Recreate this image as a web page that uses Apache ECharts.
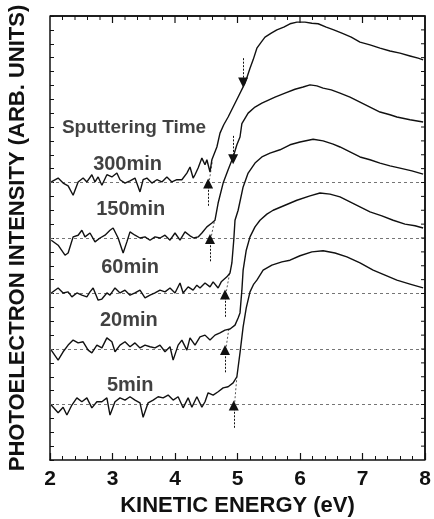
<!DOCTYPE html>
<html>
<head>
<meta charset="utf-8">
<script src="https://cdn.jsdelivr.net/npm/echarts@6/dist/echarts.min.js"></script>
<style>
  html, body { margin: 0; padding: 0; background: #fff; }
  #chart { width: 434px; height: 519px; }
</style>
</head>
<body>
<div id="chart"></div>
<script>
// Photoelectron yield spectra, offset vertically by sputtering time.
const sampleNames = ['300min', '150min', '60min', '20min', '5min'];
const baselineLevels = [5, 4, 3, 2, 1];
const xTicks = [2, 3, 4, 5, 6, 7, 8];

const spectrum300 = [
  [2.02,5.01],[2.13,5.08],[2.21,4.99],[2.29,4.94],[2.37,4.77],[2.45,5.01],[2.53,5.08],[2.59,5.01],
  [2.67,5.14],[2.72,5.01],[2.77,5.10],[2.83,4.95],[2.91,5.14],[2.99,5.10],[3.07,5.17],[3.12,5.05],
  [3.20,4.99],[3.28,5.03],[3.36,5.08],[3.44,4.83],[3.49,5.05],[3.55,5.08],[3.63,4.99],[3.71,5.05],
  [3.79,5.01],[3.87,5.10],[3.95,5.01],[4.03,5.05],[4.11,5.05],[4.19,5.17],[4.24,5.28],[4.29,5.08],
  [4.32,5.14],[4.37,5.26],[4.43,5.44],[4.48,5.32],[4.51,5.41],[4.56,5.19],[4.59,5.41],[4.67,5.64],
  [4.72,5.89],[4.78,6.04],[4.85,6.18],[4.93,6.36],[5.01,6.54],[5.12,6.79],[5.20,7.06],[5.25,7.21],
  [5.31,7.42],[5.38,7.53],[5.44,7.62],[5.54,7.69],[5.63,7.75],[5.74,7.80],[5.84,7.86],[5.95,7.89],
  [6.08,7.89],[6.19,7.87],[6.29,7.86],[6.42,7.80],[6.54,7.75],[6.67,7.69],[6.82,7.62],[6.96,7.53],
  [7.12,7.48],[7.28,7.42],[7.44,7.37],[7.60,7.33],[7.76,7.28],[7.89,7.24],[7.97,7.21]
];
const spectrum150 = [
  [2.02,3.96],[2.13,3.87],[2.24,3.69],[2.29,3.73],[2.37,4.02],[2.45,4.05],[2.51,4.14],[2.56,4.02],
  [2.64,4.09],[2.72,3.93],[2.80,4.00],[2.88,4.05],[2.96,4.14],[3.01,4.18],[3.09,4.00],[3.17,3.73],
  [3.23,3.93],[3.28,4.11],[3.36,4.05],[3.44,4.00],[3.52,4.02],[3.60,3.96],[3.68,4.02],[3.76,4.00],
  [3.84,4.05],[3.92,3.96],[4.00,4.09],[4.08,3.96],[4.16,4.11],[4.24,4.04],[4.30,4.00],[4.37,4.02],
  [4.43,4.09],[4.51,4.20],[4.59,4.27],[4.64,4.32],[4.69,4.63],[4.77,4.99],[4.85,5.23],[4.93,5.46],
  [4.99,5.68],[5.04,5.82],[5.07,6.06],[5.17,6.25],[5.28,6.36],[5.39,6.43],[5.60,6.54],[5.76,6.61],
  [5.92,6.68],[6.05,6.72],[6.16,6.76],[6.27,6.74],[6.37,6.70],[6.50,6.67],[6.64,6.61],[6.80,6.54],
  [6.96,6.45],[7.12,6.36],[7.28,6.27],[7.44,6.22],[7.55,6.18],[7.76,6.13],[7.97,6.09]
];
const spectrum60 = [
  [2.02,3.01],[2.13,3.10],[2.21,3.01],[2.29,3.03],[2.35,2.94],[2.43,3.01],[2.51,2.97],[2.59,2.94],
  [2.64,3.03],[2.69,3.10],[2.77,2.88],[2.83,2.90],[2.91,3.01],[2.96,2.97],[3.04,3.10],[3.12,3.01],
  [3.20,3.06],[3.28,2.97],[3.36,3.01],[3.44,3.06],[3.52,2.92],[3.60,2.97],[3.68,3.01],[3.76,3.06],
  [3.84,3.03],[3.92,3.10],[4.00,3.01],[4.08,3.19],[4.13,3.01],[4.21,3.12],[4.29,3.06],[4.35,3.15],
  [4.40,3.10],[4.48,3.19],[4.56,3.12],[4.61,3.21],[4.69,3.10],[4.74,3.21],[4.77,3.24],[4.83,3.30],
  [4.88,3.37],[4.91,3.55],[4.94,3.96],[4.96,4.32],[5.01,4.50],[5.09,4.92],[5.17,5.17],[5.28,5.35],
  [5.39,5.46],[5.52,5.53],[5.68,5.59],[5.84,5.68],[6.00,5.73],[6.21,5.78],[6.37,5.75],[6.53,5.69],
  [6.64,5.64],[6.80,5.55],[6.96,5.46],[7.12,5.41],[7.28,5.35],[7.44,5.30],[7.60,5.26],[7.79,5.21],
  [7.97,5.15]
];
const spectrum20 = [
  [2.02,1.98],[2.13,1.80],[2.21,1.95],[2.29,2.07],[2.37,2.16],[2.45,2.11],[2.53,2.13],[2.61,1.98],
  [2.67,1.93],[2.75,2.07],[2.83,2.02],[2.91,2.20],[2.99,2.13],[3.04,1.95],[3.12,2.07],[3.20,2.13],
  [3.28,2.04],[3.36,2.11],[3.44,2.02],[3.52,2.07],[3.60,2.04],[3.68,2.02],[3.76,2.07],[3.84,1.95],
  [3.92,2.04],[3.97,1.80],[4.05,2.07],[4.11,2.16],[4.19,1.98],[4.24,2.20],[4.32,2.07],[4.40,2.22],
  [4.48,2.25],[4.56,2.16],[4.64,2.25],[4.72,2.29],[4.80,2.34],[4.88,2.36],[4.96,2.43],[5.01,2.56],
  [5.04,2.65],[5.07,3.06],[5.09,3.42],[5.14,3.78],[5.20,4.02],[5.28,4.20],[5.36,4.32],[5.47,4.43],
  [5.57,4.50],[5.76,4.59],[5.95,4.68],[6.16,4.76],[6.32,4.81],[6.48,4.79],[6.64,4.74],[6.80,4.65],
  [6.96,4.56],[7.12,4.47],[7.31,4.40],[7.49,4.32],[7.68,4.25],[7.84,4.22],[7.97,4.18]
];
const spectrum5 = [
  [2.02,0.99],[2.13,0.85],[2.21,0.95],[2.27,0.81],[2.35,0.99],[2.43,1.12],[2.51,1.05],[2.59,1.12],
  [2.67,0.94],[2.75,1.05],[2.83,1.05],[2.91,1.12],[2.96,0.81],[3.04,1.05],[3.12,1.12],[3.20,1.08],
  [3.28,1.14],[3.36,1.08],[3.44,1.03],[3.49,0.77],[3.57,1.03],[3.65,1.08],[3.73,1.14],[3.81,1.12],
  [3.89,1.17],[3.97,1.08],[4.05,1.14],[4.13,0.94],[4.21,1.12],[4.27,0.95],[4.35,1.14],[4.43,0.95],
  [4.48,1.05],[4.53,1.21],[4.61,1.17],[4.69,1.23],[4.77,1.30],[4.85,1.32],[4.93,1.39],[4.99,1.50],
  [5.04,1.93],[5.09,2.40],[5.14,2.74],[5.20,3.03],[5.26,3.17],[5.31,3.24],[5.41,3.42],[5.55,3.51],
  [5.71,3.57],[5.84,3.60],[6.00,3.68],[6.19,3.75],[6.37,3.77],[6.56,3.73],[6.75,3.66],[6.96,3.55],
  [7.17,3.42],[7.36,3.33],[7.55,3.24],[7.76,3.17],[7.97,3.10]
];
const spectra = [spectrum300, spectrum150, spectrum60, spectrum20, spectrum5];

// Onset energies marked by the upward arrows under each baseline
const onsetEnergy = [4.53, 4.56, 4.80, 4.80, 4.94];
// Dotted extrapolation of the leading edge: [start, end] per spectrum
const onsetExtrapolation = [
  [[4.54,4.97],[4.60,5.40]],
  [[4.57,3.97],[4.63,4.30]],
  [[4.81,2.97],[4.88,3.40]],
  [[4.81,1.97],[4.86,2.35]],
  [[4.95,0.97],[4.99,1.50]]
];
// Downward arrows on the two longest-sputtered spectra: [energy, top, tip]
const kneeArrows = [[5.09, 7.24, 6.80], [4.93, 5.84, 5.42]];

// Anchor points (left edge, vertical middle) of the text annotations
const titleText = 'Sputtering Time';
const titleAnchor = [2.19, 5.98];
const labelAnchors = [[2.69,5.33],[2.74,4.52],[2.82,3.46],[2.80,2.52],[2.91,1.35]];

const FONT = "'Liberation Sans', Arial, Helvetica, sans-serif";
const INK = '#111';

// Axis ranges and tick steps
const X_MIN = xTicks[0], X_MAX = xTicks[xTicks.length - 1];
const Y_MIN = 0, Y_MAX = 8;
const X_MINOR_STEP = 0.2, Y_TICK_STEP = 0.25;

const chart = echarts.init(document.getElementById('chart'));

const series = [];

// Dashed reference baselines
series.push({
  type: 'lines', coordinateSystem: 'cartesian2d', xAxisIndex: 0, yAxisIndex: 0,
  silent: true, z: 1,
  lineStyle: { color: '#666', width: 0.9, type: [3, 3], opacity: 1 },
  data: baselineLevels.map(b => ({ coords: [[X_MIN, b], [X_MAX, b]] }))
});

// Spectra
spectra.forEach((d, i) => {
  series.push({
    name: sampleNames[i], type: 'line', xAxisIndex: 0, yAxisIndex: 0,
    data: d, showSymbol: false, symbol: 'none', smooth: false, z: 3,
    lineStyle: { color: INK, width: 1.4 }
  });
});

// Top and right edges of the frame
series.push({
  type: 'line', xAxisIndex: 0, yAxisIndex: 0, silent: true, z: 3,
  showSymbol: false, symbol: 'none', clip: false,
  lineStyle: { color: INK, width: 1.5 },
  data: [[X_MIN, Y_MAX], [X_MAX, Y_MAX], [X_MAX, Y_MIN]]
});

// Extrapolated leading edges
series.push({
  type: 'lines', coordinateSystem: 'cartesian2d', xAxisIndex: 0, yAxisIndex: 0,
  silent: true, z: 2,
  lineStyle: { color: '#444', width: 0.9, type: [2, 2], opacity: 1 },
  data: onsetExtrapolation.map(c => ({ coords: c }))
});

// Onset arrows pointing up to each baseline
series.push({
  type: 'lines', coordinateSystem: 'cartesian2d', xAxisIndex: 0, yAxisIndex: 0,
  silent: true, z: 4,
  symbol: ['none', 'triangle'], symbolSize: 10,
  lineStyle: { color: INK, width: 1, type: [2, 1.5], opacity: 1 },
  data: onsetEnergy.map((e, i) => ({ coords: [[e, baselineLevels[i] - 0.42], [e, baselineLevels[i] - 0.02]] }))
});

// Knee arrows pointing down onto the spectra
series.push({
  type: 'lines', coordinateSystem: 'cartesian2d', xAxisIndex: 0, yAxisIndex: 0,
  silent: true, z: 4,
  symbol: ['none', 'triangle'], symbolSize: 10,
  lineStyle: { color: INK, width: 1, type: [2, 1.5], opacity: 1 },
  data: kneeArrows.map(a => ({ coords: [[a[0], a[1]], [a[0], a[2]]] }))
});

// Text annotations anchored in data space
series.push({
  type: 'scatter', xAxisIndex: 0, yAxisIndex: 0, silent: true, z: 5,
  symbolSize: 0,
  data: [{ name: titleText, value: titleAnchor, label: { fontSize: 19 } }]
    .concat(sampleNames.map((n, i) => ({ name: n, value: labelAnchors[i], label: { fontSize: 20 } }))),
  label: {
    show: true, position: 'right', distance: 0, formatter: p => p.name,
    fontFamily: FONT, fontWeight: 'bold', color: INK
  }
});

chart.setOption({
  animation: false,
  backgroundColor: '#fff',
  grid: { left: 50, right: 9, top: 16, bottom: 59, outerBoundsMode: 'none', containLabel: false },
  xAxis: {
    type: 'value', position: 'bottom', min: X_MIN, max: X_MAX, interval: 1,
    axisLine: { show: true, onZero: false, lineStyle: { color: INK, width: 1.5 } },
    axisTick: { show: true, inside: true, length: 7, lineStyle: { color: INK, width: 1.2 } },
    minorTick: { show: true, splitNumber: 5, length: 4, lineStyle: { color: INK, width: 1 } },
    axisLabel: { show: true, margin: 9, fontSize: 21, fontWeight: 'bold', fontFamily: FONT, color: INK },
    splitLine: { show: false }, minorSplitLine: { show: false },
    name: 'KINETIC ENERGY (eV)', nameLocation: 'middle', nameGap: 33,
    nameTextStyle: { fontSize: 22, fontWeight: 'bold', fontFamily: FONT, color: INK }
  },
  yAxis: {
    type: 'value', position: 'left', min: Y_MIN, max: Y_MAX, interval: Y_TICK_STEP,
    axisLine: { show: true, onZero: false, lineStyle: { color: INK, width: 1.5 } },
    axisTick: { show: true, inside: true, length: 4, lineStyle: { color: INK, width: 1 } },
    axisLabel: { show: false },
    splitLine: { show: false },
    name: 'PHOTOELECTRON INTENSITY (ARB. UNITS)', nameLocation: 'middle', nameRotate: 90, nameGap: 21,
    nameTextStyle: { fontSize: 22, fontWeight: 'bold', fontFamily: FONT, color: INK }
  },
  series: series
});

// Mirrored frame and inward ticks on the top and right, placed through the axis scales
const px = (x, y) => chart.convertToPixel({ xAxisIndex: 0, yAxisIndex: 0 }, [x, y]);
const frameGraphics = [];
const tl = px(X_MIN, Y_MAX), br = px(X_MAX, Y_MIN);
frameGraphics.push({
  type: 'polyline', silent: true, z: 100,
  shape: { points: [[tl[0], tl[1]], [br[0], tl[1]], [br[0], br[1]]] },
  style: { stroke: INK, lineWidth: 1.5, fill: null }
});
const topTickCount = Math.round((X_MAX - X_MIN) / X_MINOR_STEP);
for (let k = 1; k < topTickCount; k++) {
  const p = px(X_MIN + k * X_MINOR_STEP, Y_MAX);
  const len = k % 5 === 0 ? 7 : 4;
  frameGraphics.push({
    type: 'line', silent: true, z: 100,
    shape: { x1: p[0], y1: p[1], x2: p[0], y2: p[1] + len },
    style: { stroke: INK, lineWidth: k % 5 === 0 ? 1.2 : 1 }
  });
}
const rightTickCount = Math.round((Y_MAX - Y_MIN) / Y_TICK_STEP);
for (let k = 1; k < rightTickCount; k++) {
  const p = px(X_MAX, Y_MIN + k * Y_TICK_STEP);
  frameGraphics.push({
    type: 'line', silent: true, z: 100,
    shape: { x1: p[0], y1: p[1], x2: p[0] - 4, y2: p[1] },
    style: { stroke: INK, lineWidth: 1 }
  });
}
chart.setOption({ graphic: frameGraphics });
</script>
</body>
</html>
